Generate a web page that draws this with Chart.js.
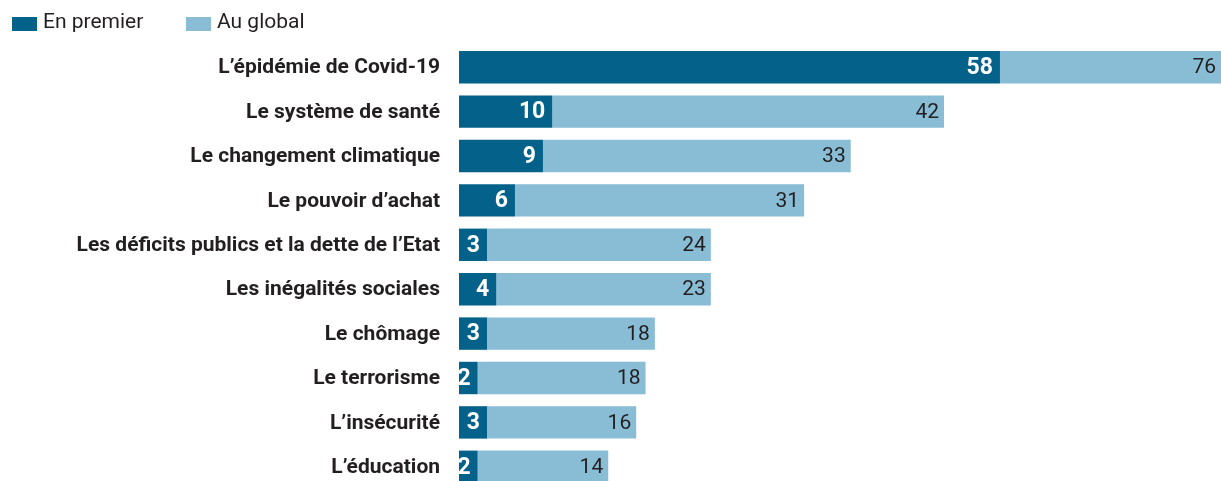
<!DOCTYPE html>
<html>
<head>
<meta charset="utf-8">
<script src="https://cdn.jsdelivr.net/npm/chart.js@4.4.0/dist/chart.umd.min.js"></script>
<style>
  body { margin: 0; background: #fff; overflow: hidden; }
  #wrap { position: relative; width: 1221px; height: 490px; }
</style>
</head>
<body>
<div id="wrap">
  <canvas id="chart" width="1221" height="490"></canvas>
</div>
<script>
document.addEventListener('DOMContentLoaded', function() {
    const categories = [
        'L’épidémie de Covid-19',
        'Le système de santé',
        'Le changement climatique',
        'Le pouvoir d’achat',
        'Les déficits publics et la dette de l’Etat',
        'Les inégalités sociales',
        'Le chômage',
        'Le terrorisme',
        'L’insécurité',
        'L’éducation'
    ];
    const enPremier = [58, 10, 9, 6, 3, 4, 3, 2, 3, 2];
    const auGlobal = [76, 42, 33, 31, 24, 23, 18, 18, 16, 14];

    const darkBlue = '#03618a';
    const lightBlue = '#89bcd5';
    const textColor = '#231f20';

    // Category labels, right aligned left of the bars
    const categoryLabels = {
        id: 'categoryLabels',
        afterDraw(chart) {
            const ctx = chart.ctx;
            const yScale = chart.scales.y;
            ctx.save();
            ctx.font = 'bold 21px Roboto, sans-serif';
            ctx.fillStyle = textColor;
            ctx.textAlign = 'right';
            ctx.textBaseline = 'middle';
            chart.data.labels.forEach((label, i) => {
                ctx.fillText(label, chart.chartArea.left - 19, yScale.getPixelForValue(i) + 1);
            });
            ctx.restore();
        }
    };

    // Legend drawn at the top left
    const topLegend = {
        id: 'topLegend',
        afterDraw(chart) {
            const ctx = chart.ctx;
            ctx.save();
            ctx.font = '21px Roboto, sans-serif';
            ctx.textBaseline = 'middle';
            ctx.textAlign = 'left';
            let x = 12;
            chart.data.datasets.forEach(ds => {
                ctx.fillStyle = ds.backgroundColor;
                ctx.fillRect(x, 17, 25, 14);
                ctx.fillStyle = textColor;
                ctx.fillText(ds.label, x + 31, 23);
                x += 174;
            });
            ctx.restore();
        }
    };

    // Value labels drawn at the inner end of each bar segment
    const valueLabels = {
        id: 'valueLabels',
        afterDatasetsDraw(chart) {
            const ctx = chart.ctx;
            const area = chart.chartArea;
            ctx.save();
            ctx.textAlign = 'right';
            ctx.textBaseline = 'middle';
            chart.data.datasets.forEach((ds, i) => {
                const meta = chart.getDatasetMeta(i);
                meta.data.forEach((bar, j) => {
                    if (i === 0) {
                        ctx.font = 'bold 23px Roboto, sans-serif';
                        ctx.fillStyle = '#ffffff';
                        ctx.fillText(ds.data[j], bar.x - 7, bar.y + 1);
                    } else {
                        ctx.font = '21px Roboto, sans-serif';
                        ctx.fillStyle = textColor;
                        ctx.fillText(ds.data[j], Math.min(bar.x, area.right) - 5, bar.y + 1);
                    }
                });
            });
            ctx.restore();
        }
    };

    new Chart(document.getElementById('chart'), {
        type: 'bar',
        data: {
            labels: categories,
            datasets: [
                { label: 'En premier', data: enPremier, backgroundColor: darkBlue },
                { label: 'Au global', data: auGlobal, backgroundColor: lightBlue }
            ]
        },
        options: {
            indexAxis: 'y',
            responsive: false,
            animation: false,
            categoryPercentage: 1,
            barPercentage: 0.73,
            layout: { padding: { top: 45, right: 0, bottom: 1, left: 459 } },
            plugins: {
                legend: { display: false },
                tooltip: { enabled: false }
            },
            scales: {
                x: { stacked: true, min: 0, max: 81.7, display: false },
                y: { stacked: true, display: false }
            }
        },
        plugins: [valueLabels, categoryLabels, topLegend]
    });
});
</script>
</body>
</html>
